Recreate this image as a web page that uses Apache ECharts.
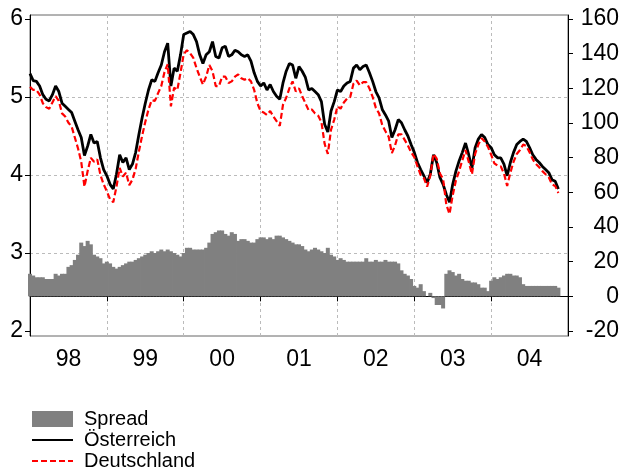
<!DOCTYPE html>
<html>
<head>
<meta charset="UTF-8" />
<title></title>
<script type="text/javascript" src="https://cdn.jsdelivr.net/npm/echarts@6/dist/echarts.min.js"></script>
<style>
  body { margin: 0; background: #fff; }
  #chart { width: 622px; height: 472px; }
</style>
</head>
<body>
<div id="chart"></div>
<script>
// half-monthly readings, Jan 1998 .. mid Nov 2004
var oesterreich = [
  5.30,5.21,5.20,5.14,5.03,4.97,4.95,5.03,5.14,5.07,4.92,4.88,4.84,4.80,4.69,4.58,4.48,4.25,4.37,4.52,4.41,4.43,4.22,4.07,
  3.99,3.88,3.82,4.01,4.26,4.16,4.22,4.07,4.14,4.29,4.52,4.73,4.92,5.09,5.22,5.20,5.31,5.41,5.58,5.69,5.14,5.37,5.33,5.54,
  5.80,5.82,5.84,5.80,5.71,5.54,5.43,5.54,5.58,5.71,5.52,5.50,5.63,5.65,5.52,5.54,5.60,5.58,5.54,5.52,5.54,5.46,5.31,5.20,
  5.14,5.18,5.09,5.16,5.07,5.01,4.97,5.18,5.33,5.43,5.41,5.24,5.39,5.33,5.25,5.09,5.11,5.07,5.03,4.94,4.65,4.55,4.82,4.94,
  5.09,5.07,5.14,5.18,5.20,5.37,5.41,5.35,5.39,5.41,5.31,5.20,5.07,4.99,4.84,4.77,4.69,4.48,4.58,4.71,4.67,4.58,4.50,4.39,
  4.29,4.16,4.07,3.99,3.90,4.01,4.26,4.16,3.97,3.88,3.75,3.65,3.88,4.05,4.18,4.29,4.41,4.26,4.09,4.35,4.46,4.52,4.48,4.39,
  4.35,4.26,4.22,4.22,4.14,3.99,4.16,4.29,4.39,4.43,4.46,4.43,4.35,4.26,4.20,4.16,4.11,4.07,4.03,3.94,3.92,3.82
];
var deutschland = [
  5.13,5.09,5.09,5.03,4.92,4.87,4.85,4.93,5.01,4.95,4.79,4.75,4.67,4.62,4.48,4.34,4.17,3.85,4.05,4.22,4.17,4.20,4.00,3.88,
  3.79,3.69,3.65,3.85,4.09,3.98,4.03,3.87,3.94,4.08,4.30,4.50,4.68,4.84,4.96,4.95,5.05,5.14,5.32,5.42,4.88,5.12,5.09,5.31,
  5.55,5.60,5.56,5.50,5.37,5.26,5.16,5.26,5.41,5.33,5.14,5.14,5.26,5.26,5.18,5.20,5.26,5.29,5.24,5.22,5.24,5.20,5.09,4.92,
  4.82,4.80,4.77,4.82,4.75,4.69,4.63,4.90,4.99,5.11,5.20,5.07,5.11,5.01,4.92,4.83,4.84,4.79,4.76,4.68,4.40,4.27,4.58,4.71,
  4.88,4.85,4.93,4.98,5.00,5.17,5.21,5.15,5.19,5.19,5.11,5.00,4.86,4.79,4.64,4.56,4.49,4.28,4.38,4.52,4.52,4.45,4.38,4.29,
  4.23,4.11,4.00,3.96,3.85,3.99,4.27,4.21,4.02,3.95,3.62,3.50,3.74,3.93,4.05,4.19,4.32,4.17,4.01,4.27,4.39,4.47,4.43,4.36,
  4.26,4.15,4.12,4.11,4.02,3.86,4.03,4.17,4.27,4.32,4.39,4.37,4.29,4.20,4.14,4.10,4.05,4.01,3.97,3.88,3.86,3.77
];
var spread = [
  13,12,11,11,11,10,10,10,13,12,13,13,17,18,21,24,31,29,32,30,24,23,22,19,
  20,19,17,16,17,18,19,20,20,21,22,23,24,25,26,25,26,27,26,27,26,25,24,23,
  25,28,28,27,27,27,27,28,31,36,37,38,38,36,35,37,36,32,33,33,32,31,31,33,
  34,34,33,34,33,35,35,34,33,32,31,30,30,29,27,26,27,28,27,26,25,28,24,23,
  21,22,21,20,20,20,20,20,20,22,20,20,21,20,20,21,20,20,20,19,15,13,12,10,
  6,5,7,3,0,2,-1,-5,-5,-7,13,15,14,12,13,10,9,9,8,8,7,5,5,3,
  9,11,10,11,12,13,13,12,12,11,7,6,6,6,6,6,6,6,6,6,6,5
];
var yearLabels = ['98', '99', '00', '01', '02', '03', '04'];
var leftTicks = [2, 3, 4, 5, 6];
var rightTicks = [-20, 0, 20, 40, 60, 80, 100, 120, 140, 160];

var startYear = 1998;
function pairs(values) {
  var out = [];
  for (var i = 0; i < values.length; i++) {
    out.push([startYear + i / 24, values[i]]);
  }
  return out;
}
var yearTicks = [], labelPos = [];
for (var k = 0; k <= yearLabels.length; k++) {
  yearTicks.push(startYear + k);
  if (k < yearLabels.length) labelPos.push(startYear + k + 0.5);
}

var font = "'Liberation Sans', Arial, sans-serif";
var chart = echarts.init(document.getElementById('chart'));
chart.setOption({
  animation: false,
  textStyle: { fontFamily: font },
  grid: {
    left: 30, right: 52, top: 15, bottom: 136,
    show: true, borderColor: '#666', borderWidth: 1
  },
  legend: {
    orient: 'vertical',
    left: 31, top: 409, width: 250, height: 120, padding: 0,
    itemWidth: 41, itemHeight: 16, itemGap: 1,
    textStyle: { fontSize: 20, lineHeight: 16, color: '#000', fontFamily: font, padding: [0, 0, 0, 6] },
    data: [
      { name: 'Spread', icon: 'rect' },
      { name: 'Österreich', itemStyle: { opacity: 0 } },
      { name: 'Deutschland', itemStyle: { opacity: 0 } }
    ]
  },
  xAxis: {
    type: 'value',
    min: 1998, max: 2005,
    axisLine: { lineStyle: { color: '#000', width: 1 } },
    axisTick: { customValues: yearTicks, length: 5, lineStyle: { color: '#000' } },
    axisLabel: {
      customValues: labelPos,
      margin: 12,
      fontSize: 23, color: '#000', fontFamily: font,
      formatter: function (v) { return yearLabels[Math.floor(v) - startYear]; }
    },
    splitLine: { show: true, lineStyle: { color: '#bbb', type: [3, 3] } }
  },
  yAxis: [
    {
      type: 'value', position: 'left',
      min: 1.936, max: 6.051,
      axisLine: { show: true, lineStyle: { color: '#000' } },
      axisTick: { show: true, customValues: leftTicks, length: 5, lineStyle: { color: '#000' } },
      axisLabel: { customValues: leftTicks, margin: 7, fontSize: 23, color: '#000', fontFamily: font },
      splitLine: { show: false }
    },
    {
      type: 'value', position: 'right',
      min: -22.885, max: 162.308,
      axisLine: { show: true, lineStyle: { color: '#000' } },
      axisTick: { show: true, customValues: rightTicks, length: 5, lineStyle: { color: '#000' } },
      axisLabel: { customValues: rightTicks, align: 'right', margin: 51, fontSize: 23, color: '#000', fontFamily: font },
      splitLine: { show: false }
    },
    {
      // horizontal grid only at 3, 4, 5
      type: 'value', position: 'left',
      min: 1.936, max: 6.051,
      axisLine: { show: false },
      axisTick: { show: false, customValues: [3, 4, 5] },
      axisLabel: { show: false },
      splitLine: { show: true, lineStyle: { color: '#bbb', type: [3, 3] } }
    }
  ],
  series: [
    {
      name: 'Spread', type: 'bar', yAxisIndex: 1,
      barWidth: 4,
      itemStyle: { color: '#808080' },
      data: pairs(spread)
    },
    {
      name: 'Österreich', type: 'line', yAxisIndex: 0,
      symbol: 'none',
      lineStyle: { color: '#000', width: 2.8 },
      itemStyle: { color: '#000' },
      data: pairs(oesterreich)
    },
    {
      name: 'Deutschland', type: 'line', yAxisIndex: 0,
      symbol: 'none',
      lineStyle: { color: '#ff0000', width: 2.2, type: [6, 3] },
      itemStyle: { color: '#ff0000' },
      data: pairs(deutschland)
    }
  ]
});
</script>
</body>
</html>
